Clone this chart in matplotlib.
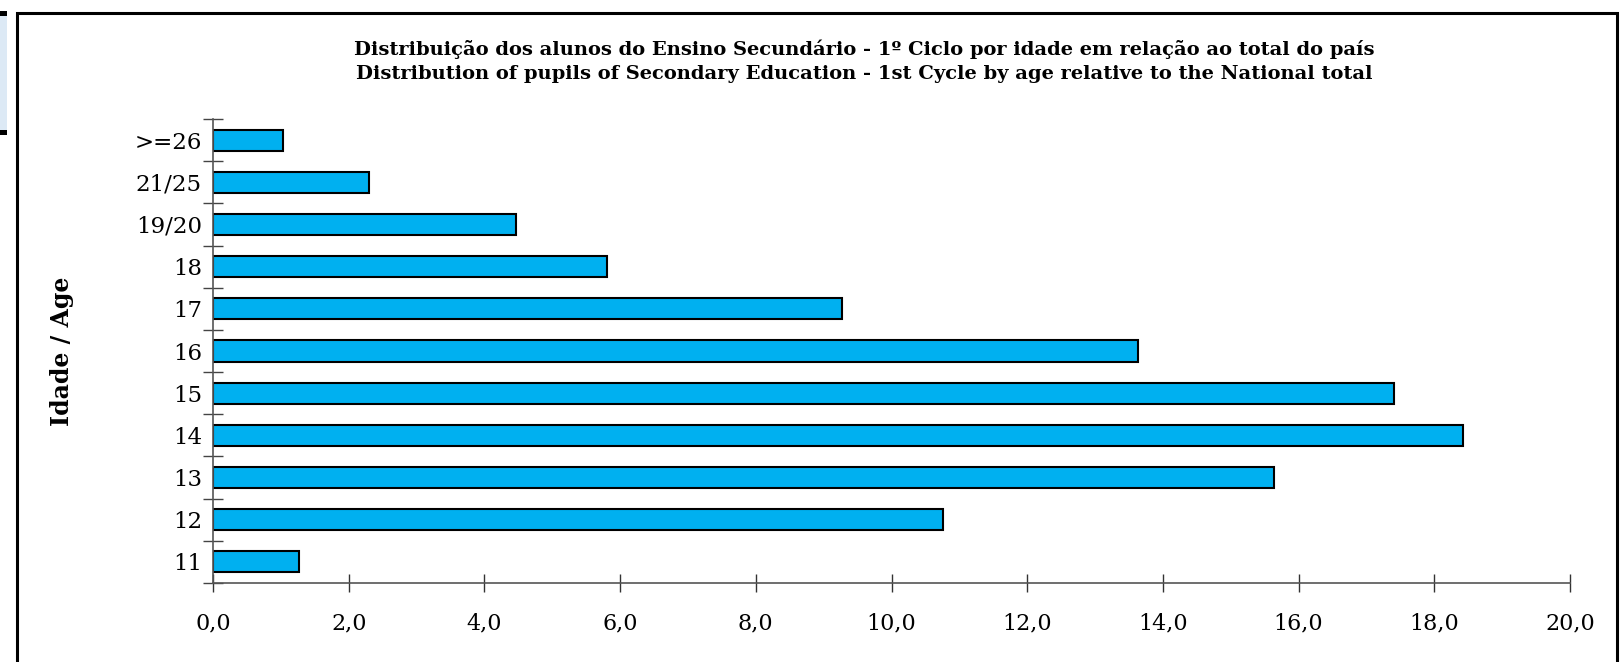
import matplotlib
matplotlib.use("Agg")
import matplotlib.pyplot as plt
from matplotlib.patches import Rectangle
from matplotlib.ticker import FixedLocator

# ---- data ----
ages = ["11", "12", "13", "14", "15", "16", "17", "18", "19/20", "21/25", ">=26"]
values = [1.27, 10.76, 15.64, 18.42, 17.41, 13.63, 9.27, 5.81, 4.47, 2.30, 1.03]
x_ticks = [0, 2, 4, 6, 8, 10, 12, 14, 16, 18, 20]
x_tick_labels = ["0,0", "2,0", "4,0", "6,0", "8,0", "10,0", "12,0", "14,0", "16,0", "18,0", "20,0"]
title = ("Distribuição dos alunos do Ensino Secundário - 1º Ciclo por idade em relação ao total do país\n"
         "Distribution of pupils of Secondary Education - 1st Cycle by age relative to the National total")
ylabel = "Idade / Age"

W, H = 1620, 662
fig = plt.figure(figsize=(W / 100, H / 100), dpi=100)
plt.rcParams['font.family'] = ['DejaVu Serif', 'Liberation Serif']

# outer frame
fig.add_artist(Rectangle((17 / W, -0.05), (1617 - 17) / W, 1.05 - 13 / H,
                         transform=fig.transFigure, fill=False, edgecolor='black', linewidth=2.2))
# left-edge artefact (piece of neighbouring box)
fig.add_artist(Rectangle((0, 1 - 133 / H), 7 / W, (133 - 12) / H,
                         transform=fig.transFigure, facecolor='#dce9f5', edgecolor='none'))
fig.add_artist(Rectangle((0, 1 - 16 / H), 7 / W, 5 / H,
                         transform=fig.transFigure, facecolor='black', edgecolor='none'))
fig.add_artist(Rectangle((0, 1 - 135 / H), 7 / W, 5 / H,
                         transform=fig.transFigure, facecolor='black', edgecolor='none'))

ax = fig.add_axes([213 / W, (H - 583) / H, (1570 - 213) / W, (583 - 119) / H])
y = list(range(len(ages)))
ax.barh(y, values, height=0.5, color='#00B0F0', edgecolor='black', linewidth=1.5)

ax.set_xlim(0, 20)
ax.set_ylim(-0.5, len(ages) - 0.5)

for s in ['top', 'right']:
    ax.spines[s].set_visible(False)
for s in ['left', 'bottom']:
    ax.spines[s].set_color('#555555')
    ax.spines[s].set_linewidth(1.2)

ax.set_xticks(x_ticks)
ax.set_xticklabels(x_tick_labels, fontsize=16)
ax.tick_params(axis='x', direction='inout', length=13, width=1.0, color='#333333', pad=15)

ax.set_yticks(y)
ax.set_yticklabels(ages, fontsize=16.5)
ax.tick_params(axis='y', which='major', length=0, pad=8)
ax.yaxis.set_minor_locator(FixedLocator([i - 0.5 for i in range(len(ages) + 1)]))
ax.tick_params(axis='y', which='minor', direction='inout', length=14, width=1.0, color='#444444')

fig.text(864 / W, 1 - 61 / H, title, ha='center', va='center', fontsize=14,
         fontweight='bold', linespacing=1.4)
fig.text(62 / W, 1 - 351 / H, ylabel, ha='center', va='center', rotation=90,
         fontsize=17, fontweight='bold')

fig.savefig("out.png", dpi=100)
